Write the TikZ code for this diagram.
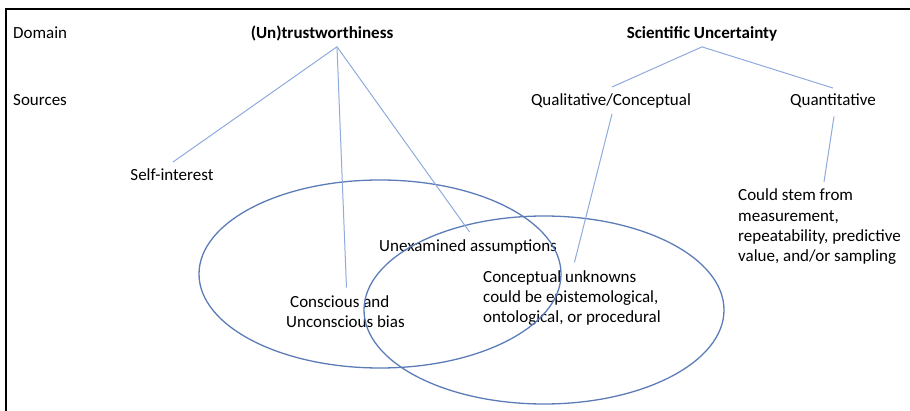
\documentclass[tikz,border=0pt]{standalone}
\usepackage{fontspec}
\setmainfont{Carlito}
\usetikzlibrary{calc}
\usepackage{xcolor}

\definecolor{linkblue}{RGB}{143,170,220}
\definecolor{ringblue}{RGB}{92,124,184}

\begin{document}
\begin{tikzpicture}[x=1pt,y=-1pt,
    txt/.style={font=\fontsize{17}{20.4}\selectfont, inner sep=0pt, align=left},
    heading/.style={txt, font=\fontsize{17}{20.4}\selectfont\bfseries},
    link/.style={linkblue, line width=1pt},
    ring/.style={ringblue, line width=1.3pt}]

      \useasboundingbox (0,0) rectangle (910,411);

      % Frame
      \draw[line width=1.6pt] (6,411) -- (6,9) -- (910,9);

      % Row titles
      \node[txt, anchor=base west] (domain) at (13,39) {Domain};
      \node[txt, anchor=base west] (sources) at (13,106) {Sources};

      % Domains
      \node[heading, anchor=base] (trust) at (322,39) {(Un)trustworthiness};
      \node[heading, anchor=base] (science) at (702,39) {Scientific Uncertainty};

      % Sources (multi-line nodes sit on the baseline of their last line)
      \node[txt, anchor=base] (quali) at (611,106) {Qualitative/Conceptual};
      \node[txt, anchor=base] (quanti) at (833,106) {Quantitative};
      \node[txt, anchor=base] (self) at (172,181) {Self-interest};
      \node[txt, anchor=base west] (stem) at (738,262)
        {Could stem from\\measurement,\\repeatability, predictive\\value, and/or sampling};
      \node[txt, anchor=base west] (assume) at (379,252) {Unexamined assumptions};
      \node[txt, anchor=base west] (bias) at (286,328)
        {\hspace*{4pt}Conscious and\\Unconscious bias};
      \node[txt, anchor=base west] (unknown) at (483,323)
        {Conceptual unknowns\\could be epistemological,\\ontological, or procedural};

      % Overlapping rings
      \draw[ring] (380,274) ellipse [x radius=181, y radius=94];
      \draw[ring] (544,310) ellipse [x radius=180, y radius=94];

      % Branches
      \coordinate (trust-fork) at ($(trust.south)+(15,5)$);
      \coordinate (science-fork) at ($(science.south)+(0,5)$);
      \draw[link] (trust-fork) -- ($(self.north)+(1,-7)$);
      \draw[link] (trust-fork) -- ($(bias.north)+(1,-8)$);
      \draw[link] (trust-fork) -- ($(assume.north)+(1.5,-8)$);
      \draw[link] ($(quali.north)+(1,-7)$) -- (science-fork) -- ($(quanti.north)+(0,-6)$);
      \draw[link] ($(quali.south)+(1,5)$) -- ($(unknown.north)+(2.5,-8)$);
      \draw[link] ($(quanti.south)+(1,8)$) -- ($(stem.north)+(4.5,-7)$);

  \end{tikzpicture}
\end{document}
